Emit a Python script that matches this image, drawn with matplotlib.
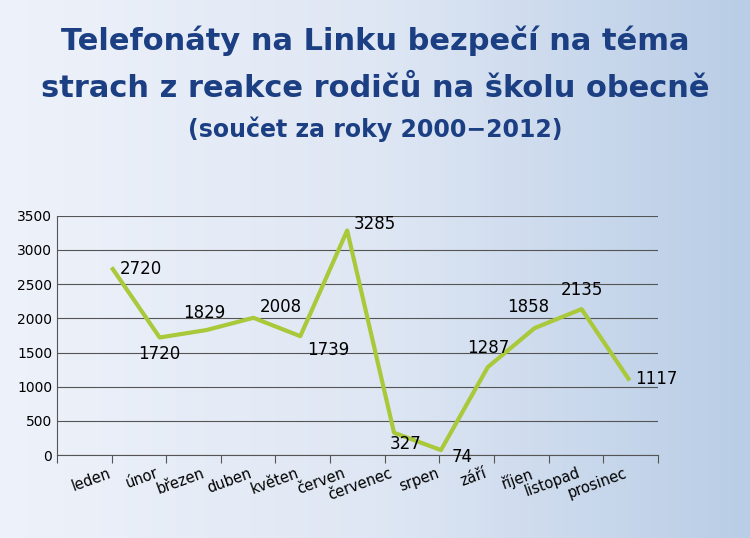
import numpy as np
from matplotlib import pyplot as plt
from matplotlib.colors import LinearSegmentedColormap

months = ['leden', 'únor', 'březen', 'duben', 'květen', 'červen',
          'červenec', 'srpen', 'září', 'říjen', 'listopad', 'prosinec']
calls = [2720, 1720, 1829, 2008, 1739, 3285, 327, 74, 1287, 1858, 2135, 1117]

fig = plt.figure(figsize=(7.5, 5.38), dpi=100)

# background gradient
bg = fig.add_axes([0, 0, 1, 1], zorder=-10)
grad = np.linspace(0, 1, 256).reshape(1, -1)
cmap = LinearSegmentedColormap.from_list('bg', ['#eef2fa', '#dfe7f4', '#b9cde6'])
bg.imshow(grad, aspect='auto', cmap=cmap, extent=[0, 1, 0, 1])
bg.axis('off')

navy = '#1b3f82'
fig.text(0.5, 0.925, 'Telefonáty na Linku bezpečí na téma', ha='center', va='center',
         fontsize=22, fontweight='bold', color=navy)
fig.text(0.5, 0.835, 'strach z reakce rodičů na školu obecně', ha='center', va='center',
         fontsize=22, fontweight='bold', color=navy)
fig.text(0.5, 0.76, '(součet za roky 2000\u22122012)', ha='center', va='center',
         fontsize=17, fontweight='bold', color=navy)

ax = fig.add_axes([0.076, 0.154, 0.801, 0.445])
ax.set_facecolor('none')
x = np.arange(len(months))
ax.plot(x, calls, color='#a9c93b', lw=3, solid_joinstyle='round')

offsets = [(5, 0, 'left', 'center'), (0, -12, 'center', 'center'), (-2, 12, 'center', 'center'),
           (20, 8, 'center', 'center'), (20, -10, 'center', 'center'), (5, 5, 'left', 'center'),
           (8, -8, 'center', 'center'), (8, -5, 'left', 'center'), (0, 14, 'center', 'center'),
           (-5, 15, 'center', 'center'), (0, 14, 'center', 'center'), (5, 0, 'left', 'center')]
for xi, v, (dx, dy, ha, va) in zip(x, calls, offsets):
    ax.annotate(str(v), (xi, v), xytext=(dx, dy), textcoords='offset points',
                ha=ha, va=va, fontsize=12, color='black')

ax.set_xlim(-1.19, 11.6)
ax.set_ylim(0, 3500)
ax.set_yticks(range(0, 3501, 500))
ax.yaxis.grid(True, color='#555555', lw=0.8)
ax.set_axisbelow(True)
ax.set_xticks(np.arange(-1.19, 11.7, 1.165))
ax.set_xticklabels([])
ax.tick_params(axis='x', length=6, color='#555555')
ax.tick_params(axis='y', labelsize=10, length=0)
for xi, m in zip(x, months):
    ax.text(xi - 0.1, -150, m, rotation=20, ha='right', va='top', fontsize=10.5,
            rotation_mode='anchor')
for s in ['top', 'right']:
    ax.spines[s].set_visible(False)
ax.spines['left'].set_color('#555555')
ax.spines['bottom'].set_color('#555555')

fig.savefig('out.png', dpi=100)
